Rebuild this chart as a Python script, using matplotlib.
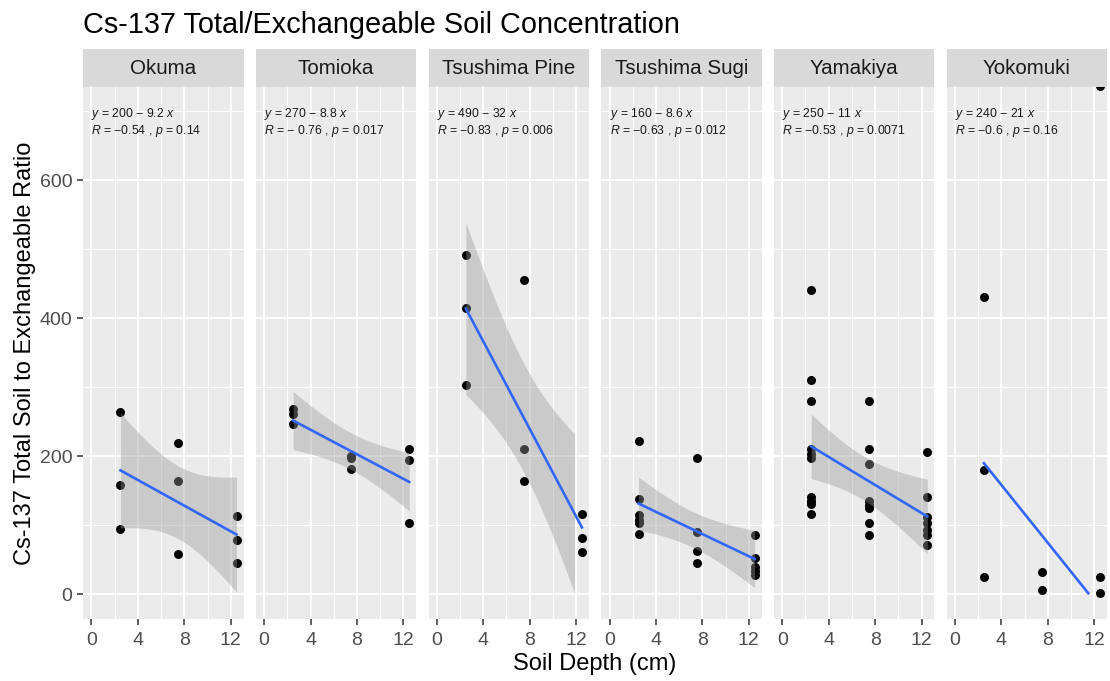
import numpy as np
import matplotlib
matplotlib.use("Agg")
import matplotlib.pyplot as plt
import math

plt.rcParams['font.family'] = ['Liberation Sans', 'DejaVu Sans']
plt.rcParams['mathtext.fontset'] = 'custom'
plt.rcParams['mathtext.it'] = 'Liberation Sans:italic'
plt.rcParams['mathtext.rm'] = 'Liberation Sans'

# ---------------- data ----------------
sites = ["Okuma", "Tomioka", "Tsushima Pine", "Tsushima Sugi", "Yamakiya", "Yokomuki"]

okuma_depth = [2.5, 2.5, 2.5, 7.5, 7.5, 7.5, 12.5, 12.5, 12.5]
okuma_ratio = [265, 158, 95, 219, 165, 58, 114, 79, 46]

tomioka_depth = [2.5, 2.5, 2.5, 7.5, 7.5, 7.5, 12.5, 12.5, 12.5]
tomioka_ratio = [268, 262, 247, 200, 198, 182, 211, 195, 104]

pine_depth = [2.5, 2.5, 2.5, 7.5, 7.5, 7.5, 12.5, 12.5, 12.5]
pine_ratio = [492, 415, 304, 455, 211, 165, 116, 81, 62]

sugi_depth = [2.5] * 6 + [7.5] * 4 + [12.5] * 5
sugi_ratio = [223, 138, 115, 108, 103, 88, 197, 90, 63, 46, 86, 53, 40, 34, 28]

yamakiya_depth = [2.5] * 10 + [7.5] * 8 + [12.5] * 7
yamakiya_ratio = [441, 311, 281, 210, 204, 198, 141, 136, 131, 116,
                  281, 211, 189, 136, 129, 125, 104, 86,
                  207, 141, 112, 103, 93, 86, 72]

yokomuki_depth = [2.5, 2.5, 2.5, 7.5, 7.5, 12.5, 12.5, 12.5]
yokomuki_ratio = [431, 180, 25, 33, 6, 737, 25, 1.5]

eq_labels = ["$y$ = 200 − 9.2 $x$", "$y$ = 270 − 8.8 $x$", "$y$ = 490 − 32 $x$",
             "$y$ = 160 − 8.6 $x$", "$y$ = 250 − 11 $x$", "$y$ = 240 − 21 $x$"]
r_labels = ["$R$ = −0.54 , $p$ = 0.14", "$R$ = − 0.76 , $p$ = 0.017",
            "$R$ = −0.83 , $p$ = 0.006", "$R$ = −0.63 , $p$ = 0.012",
            "$R$ = −0.53 , $p$ = 0.0071", "$R$ = −0.6 , $p$ = 0.16"]

x_ticks = [0, 4, 8, 12]
y_ticks = [0, 200, 400, 600]

depths = [okuma_depth, tomioka_depth, pine_depth, sugi_depth, yamakiya_depth, yokomuki_depth]
ratios = [okuma_ratio, tomioka_ratio, pine_ratio, sugi_ratio, yamakiya_ratio, yokomuki_ratio]

title = "Cs-137 Total/Exchangeable Soil Concentration"
xlabel = "Soil Depth (cm)"
ylabel = "Cs-137 Total Soil to Exchangeable Ratio"

YMIN, YMAX = 0, 700


def t_quantile(df, q=0.975):
    grid = np.linspace(0, 20, 40001)
    c = math.gamma((df + 1) / 2) / (math.sqrt(df * math.pi) * math.gamma(df / 2))
    pdf = c * (1 + grid ** 2 / df) ** (-(df + 1) / 2)
    cdf = 0.5 + np.concatenate([[0], np.cumsum((pdf[1:] + pdf[:-1]) / 2 * np.diff(grid))])
    return float(np.interp(q, cdf, grid))


# ---------------- layout ----------------
W, H = 1110, 681
fig = plt.figure(figsize=(W / 100, H / 100), dpi=100)
panel_w, gap, left0 = 160.2, 12.5, 83.3
ptop, pbot, stop = 87.3, 618.5, 49.0
ypad = (YMAX - YMIN) * 0.05

for i, site in enumerate(sites):
    L = left0 + i * (panel_w + gap)
    ax = fig.add_axes([L / W, 1 - pbot / H, panel_w / W, (pbot - ptop) / H])
    sax = fig.add_axes([L / W, 1 - ptop / H, panel_w / W, (ptop - stop) / H])

    x = np.asarray(depths[i], float)
    y = np.asarray(ratios[i], float)

    ax.set_facecolor('#EBEBEB')
    for s in ax.spines.values():
        s.set_visible(False)
    ax.set_xlim(-0.7, 13.1)
    ax.set_ylim(YMIN - ypad, YMAX + ypad)
    ax.set_xticks(x_ticks)
    ax.set_yticks(y_ticks)
    ax.set_xticks([2, 6, 10], minor=True)
    ax.set_yticks([100, 300, 500, 700], minor=True)
    ax.grid(which='major', color='white', linewidth=1.4)
    ax.grid(which='minor', color='white', linewidth=0.7)
    ax.set_axisbelow(True)
    ax.tick_params(which='minor', length=0)
    ax.tick_params(which='major', length=4, width=1.1, color='#333333',
                   labelcolor='#4D4D4D', labelsize=14, pad=4)
    ax.tick_params(axis='x', which='major', pad=6)
    if i > 0:
        ax.tick_params(axis='y', which='major', length=0, labelleft=False)

    ax.scatter(x, y, s=42, color='black', zorder=2, linewidths=0)

    # linear fit with 95% confidence band (values inside displayed range)
    keep = (y >= YMIN) & (y <= YMAX)
    xf, yf = x[keep], y[keep]
    n = len(xf)
    b1, b0 = np.polyfit(xf, yf, 1)
    xs = np.linspace(xf.min(), xf.max(), 80)
    ys = b0 + b1 * xs
    resid = yf - (b0 + b1 * xf)
    s_err = np.sqrt(np.sum(resid ** 2) / (n - 2))
    sxx = np.sum((xf - xf.mean()) ** 2)
    se = s_err * np.sqrt(1 / n + (xs - xf.mean()) ** 2 / sxx)
    tq = t_quantile(n - 2)
    lo, hi = ys - tq * se, ys + tq * se
    ax.fill_between(xs, lo, hi, where=(lo >= YMIN), color='#999999', alpha=0.4,
                    linewidth=0, zorder=3)
    ys_vis = np.where(ys >= YMIN, ys, np.nan)
    ax.plot(xs, ys_vis, color='#3366FF', linewidth=1.9, zorder=4)

    ax.text(0.0, 697, eq_labels[i], fontsize=8.8, color='#1A1A1A', ha='left', va='center', zorder=5)
    ax.text(0.0, 672, r_labels[i], fontsize=8.8, color='#1A1A1A', ha='left', va='center', zorder=5)

    sax.set_facecolor('#D9D9D9')
    sax.set_xticks([])
    sax.set_yticks([])
    for s in sax.spines.values():
        s.set_visible(False)
    sax.text(0.5, 0.5, site, ha='center', va='center', fontsize=14.8, color='#1A1A1A',
             transform=sax.transAxes)

fig.text(83 / W, 1 - 33 / H, title, fontsize=20.8, color='black', ha='left', va='baseline')
fig.text((left0 + (6 * panel_w + 5 * gap) / 2) / W, 1 - 664 / H, xlabel, fontsize=17,
         ha='center', va='center', color='black')
fig.text(25 / W, 1 - ((ptop + pbot) / 2) / H, ylabel, fontsize=17, rotation=90,
         ha='center', va='center', color='black')

fig.savefig("out.png", dpi=100)
